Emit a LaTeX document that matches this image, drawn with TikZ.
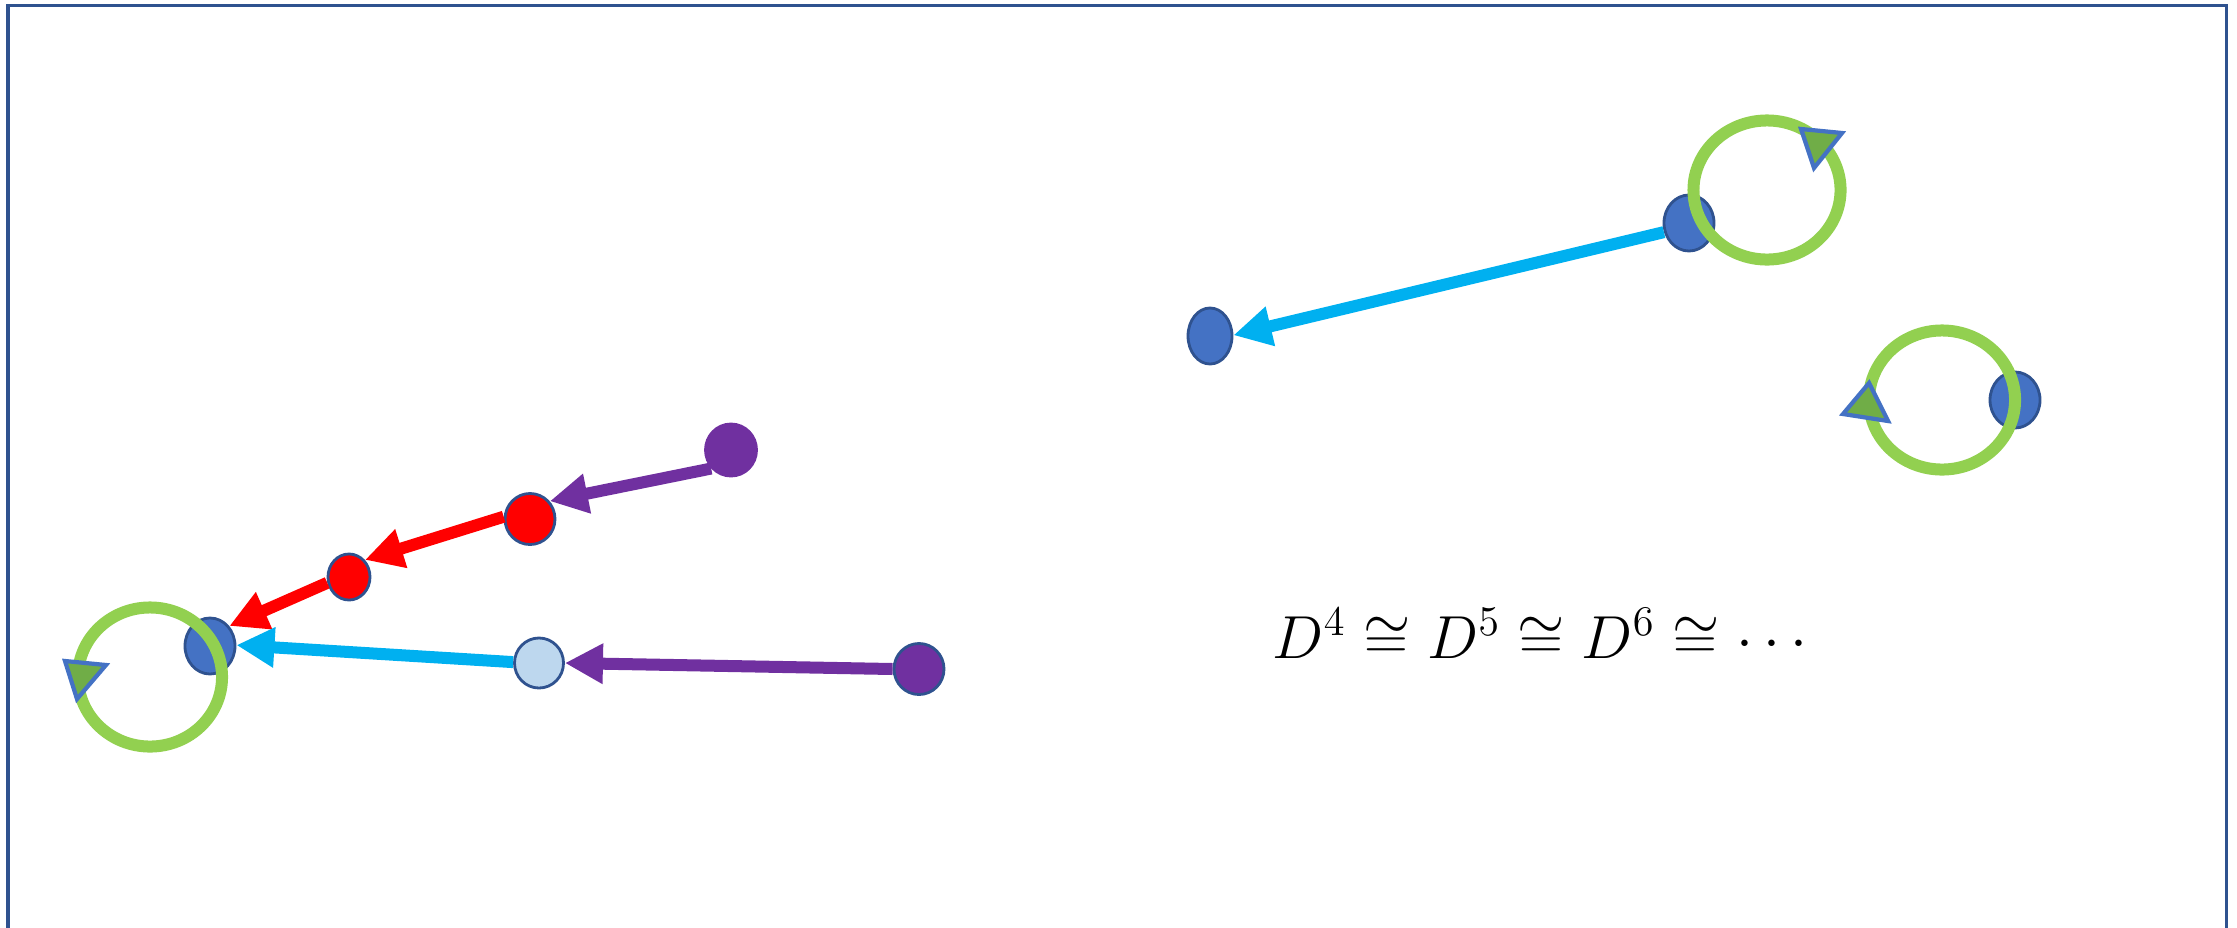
\documentclass[tikz,border=0pt]{standalone}
\usetikzlibrary{arrows.meta,shapes.geometric}
\definecolor{dkblue}{HTML}{2F528F}
\definecolor{nblue}{HTML}{4472C4}
\definecolor{lblue}{HTML}{BDD7EE}
\definecolor{npurple}{HTML}{7030A0}
\definecolor{ncyan}{HTML}{00B0F0}
\definecolor{ngreen}{HTML}{92D050}
\definecolor{tgreen}{HTML}{70AD47}
\begin{document}
\begin{tikzpicture}[x=0.01cm,y=-0.01cm,
  dot/.style={ellipse,inner sep=0pt,draw=dkblue,line width=0.8pt},
  bluedot/.style={dot,fill=nblue,minimum width=0.5cm,minimum height=0.56cm},
  reddot/.style={dot,fill=red},
  purpledot/.style={dot,fill=npurple,minimum width=0.5cm,minimum height=0.51cm},
  arr/.style={line width=0.12cm,-{Triangle[length=0.38cm,width=0.38cm]}},
  ring/.style={draw=ngreen,line width=0.12cm},
  tri/.style={fill=tgreen,draw=nblue,line width=1.2pt,line join=miter}]
\useasboundingbox (0,0) rectangle (2237,927);
\draw[dkblue,line width=0.03cm] (8,1000) -- (8,5) -- (2226,5) -- (2226,1000);

% left cluster
\node[bluedot] (bL) at (210,646) {};
\node[reddot,minimum width=0.42cm,minimum height=0.46cm] (rS) at (349,577) {};
\node[reddot,minimum width=0.5cm,minimum height=0.51cm] (rB) at (530,519) {};
\node[purpledot,draw=npurple,minimum width=0.51cm,minimum height=0.52cm] (pT) at (731,450) {};
\node[dot,fill=lblue,minimum width=0.49cm,minimum height=0.5cm] (lb) at (539,663) {};
\node[purpledot] (pB) at (919,669) {};

\draw[arr,npurple] (pT.223) -- (rB.42);
\draw[arr,red] (rB.175) -- (rS.47);
\draw[arr,red] (rS.195) -- (bL.46);
\draw[arr,ncyan] (lb.178) -- (bL.2);
\draw[arr,npurple] (pB.180) -- (lb.0);

\draw[ring] (150,677) ellipse [x radius=0.72cm,y radius=0.695cm];
\draw[tri] (65,661) -- (106,665) -- (77,699) -- cycle;

% right cluster
\node[bluedot,minimum width=0.44cm] (bM) at (1210,336) {};
\node[bluedot] (bT) at (1689,223) {};
\draw[arr,ncyan] (bT.200) -- (bM.2);
\draw[ring] (1767,190) ellipse [x radius=0.735cm,y radius=0.695cm];
\draw[tri] (1801,129) -- (1842,133) -- (1814,168) -- cycle;

\node[bluedot] (bR) at (2015,400) {};
\draw[ring] (1942,400) ellipse [x radius=0.73cm,y radius=0.695cm];
\draw[tri] (1843,414) -- (1869,383) -- (1888,421) -- cycle;

\node[anchor=base,inner sep=0pt,font=\fontsize{17}{20}\selectfont] (eq) at (1540,658)
  {$D^4 \cong D^5 \cong D^6 \cong \cdots$};
\end{tikzpicture}
\end{document}
